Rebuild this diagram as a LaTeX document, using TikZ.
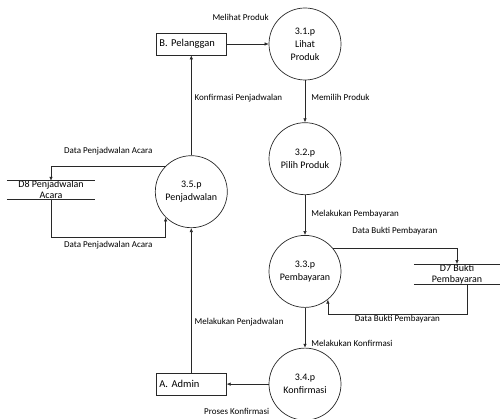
\documentclass[tikz,border=0pt]{standalone}
\usepackage{fontspec}
\setmainfont{Carlito}
\usetikzlibrary{arrows.meta,positioning,calc}
\definecolor{dfdline}{RGB}{40,40,40}

\begin{document}
\begin{tikzpicture}[x=1pt,y=-1pt,
 proc/.style={circle,draw=dfdline,line width=0.7pt,minimum size=72pt,inner sep=0pt,align=center,font=\fontsize{10}{13}\selectfont},
 ext/.style={draw=dfdline,line width=0.7pt,minimum height=22pt,text width=64pt,inner xsep=3pt,align=left,font=\fontsize{10.5}{12}\selectfont},
 store/.style={minimum width=88pt,inner xsep=0pt,inner ysep=0pt,align=center,font=\fontsize{10}{11}\selectfont},
 arr/.style={-{Latex[length=4pt,width=3.5pt]},line width=0.6pt,draw=dfdline},
 note/.style={font=\fontsize{9}{10}\selectfont,inner sep=1pt},
 node distance=40pt]
\useasboundingbox (0,0) rectangle (500,419);
\node[proc] (p31) at (305,44) {3.1.p\\Lihat\\Produk};
\node[proc, below=42pt of p31] (p32) {3.2.p\\Pilih Produk};
\node[proc, below=40pt of p32] (p33) {3.3.p\\Pembayaran};
\node[proc, below=40pt of p33] (p34) {3.4.p\\Konfirmasi};
\node[ext, left=42pt of p31] (pel) {B. Pelanggan};
\node[ext, left=42pt of p34] (adm) {A. Admin};
\node[proc, below=100pt of pel] (p35) {3.5.p\\Penjadwalan};
\node[store] (d8) at (51,190) {D8 Penjadwalan\\Acara};
\node[store, minimum width=86pt] (d7) at (457,274) {D7 Bukti\\Pembayaran};
% data stores
\draw[dfdline,line width=0.7pt] (d8.north west)--(d8.north east) (d8.south west)--(d8.south east);
\draw[dfdline,line width=0.7pt] (d7.north west)--(d7.north east) (d7.south west)--(d7.south east);
% flows
\draw[arr] (pel)--node[note,above=22pt,xshift=-7pt]{Melihat Produk}(p31);
\draw[arr] (p31)--node[note,right=5pt,pos=0.4]{Memilih Produk}(p32);
\draw[arr] (p32)--node[note,right=5pt,pos=0.47]{Melakukan Pembayaran}(p33);
\draw[arr] (p33)--node[note,right=5pt,pos=0.9]{Melakukan Konfirmasi}(p34);
\draw[arr] (p34)--node[note,below=23pt,xshift=-11pt]{Proses Konfirmasi}(adm);
\draw[arr] (adm)--node[note,right=2pt,pos=0.35]{Melakukan Penjadwalan}(p35);
\draw[arr] (p35)--node[note,right=2pt,pos=0.57]{Konfirmasi Penjadwalan}(pel);
\draw[arr] (p35.135) -| node[note,above=10pt,pos=0.25]{Data Penjadwalan Acara}(d8.north);
\draw[arr] (d8.south) -- ++(0,38) -| node[note,below=3pt,pos=0.25]{Data Penjadwalan Acara}(p35.225);
\draw[arr] (p33.40) -| node[note,above=12pt,pos=0.25]{Data Bukti Pembayaran}(d7.north);
\draw[arr] ([xshift=10pt]d7.south) -- ++(0,30) -| node[note,below,pos=0.25]{Data Bukti Pembayaran}(p33.-51);
\end{tikzpicture}
\end{document}
